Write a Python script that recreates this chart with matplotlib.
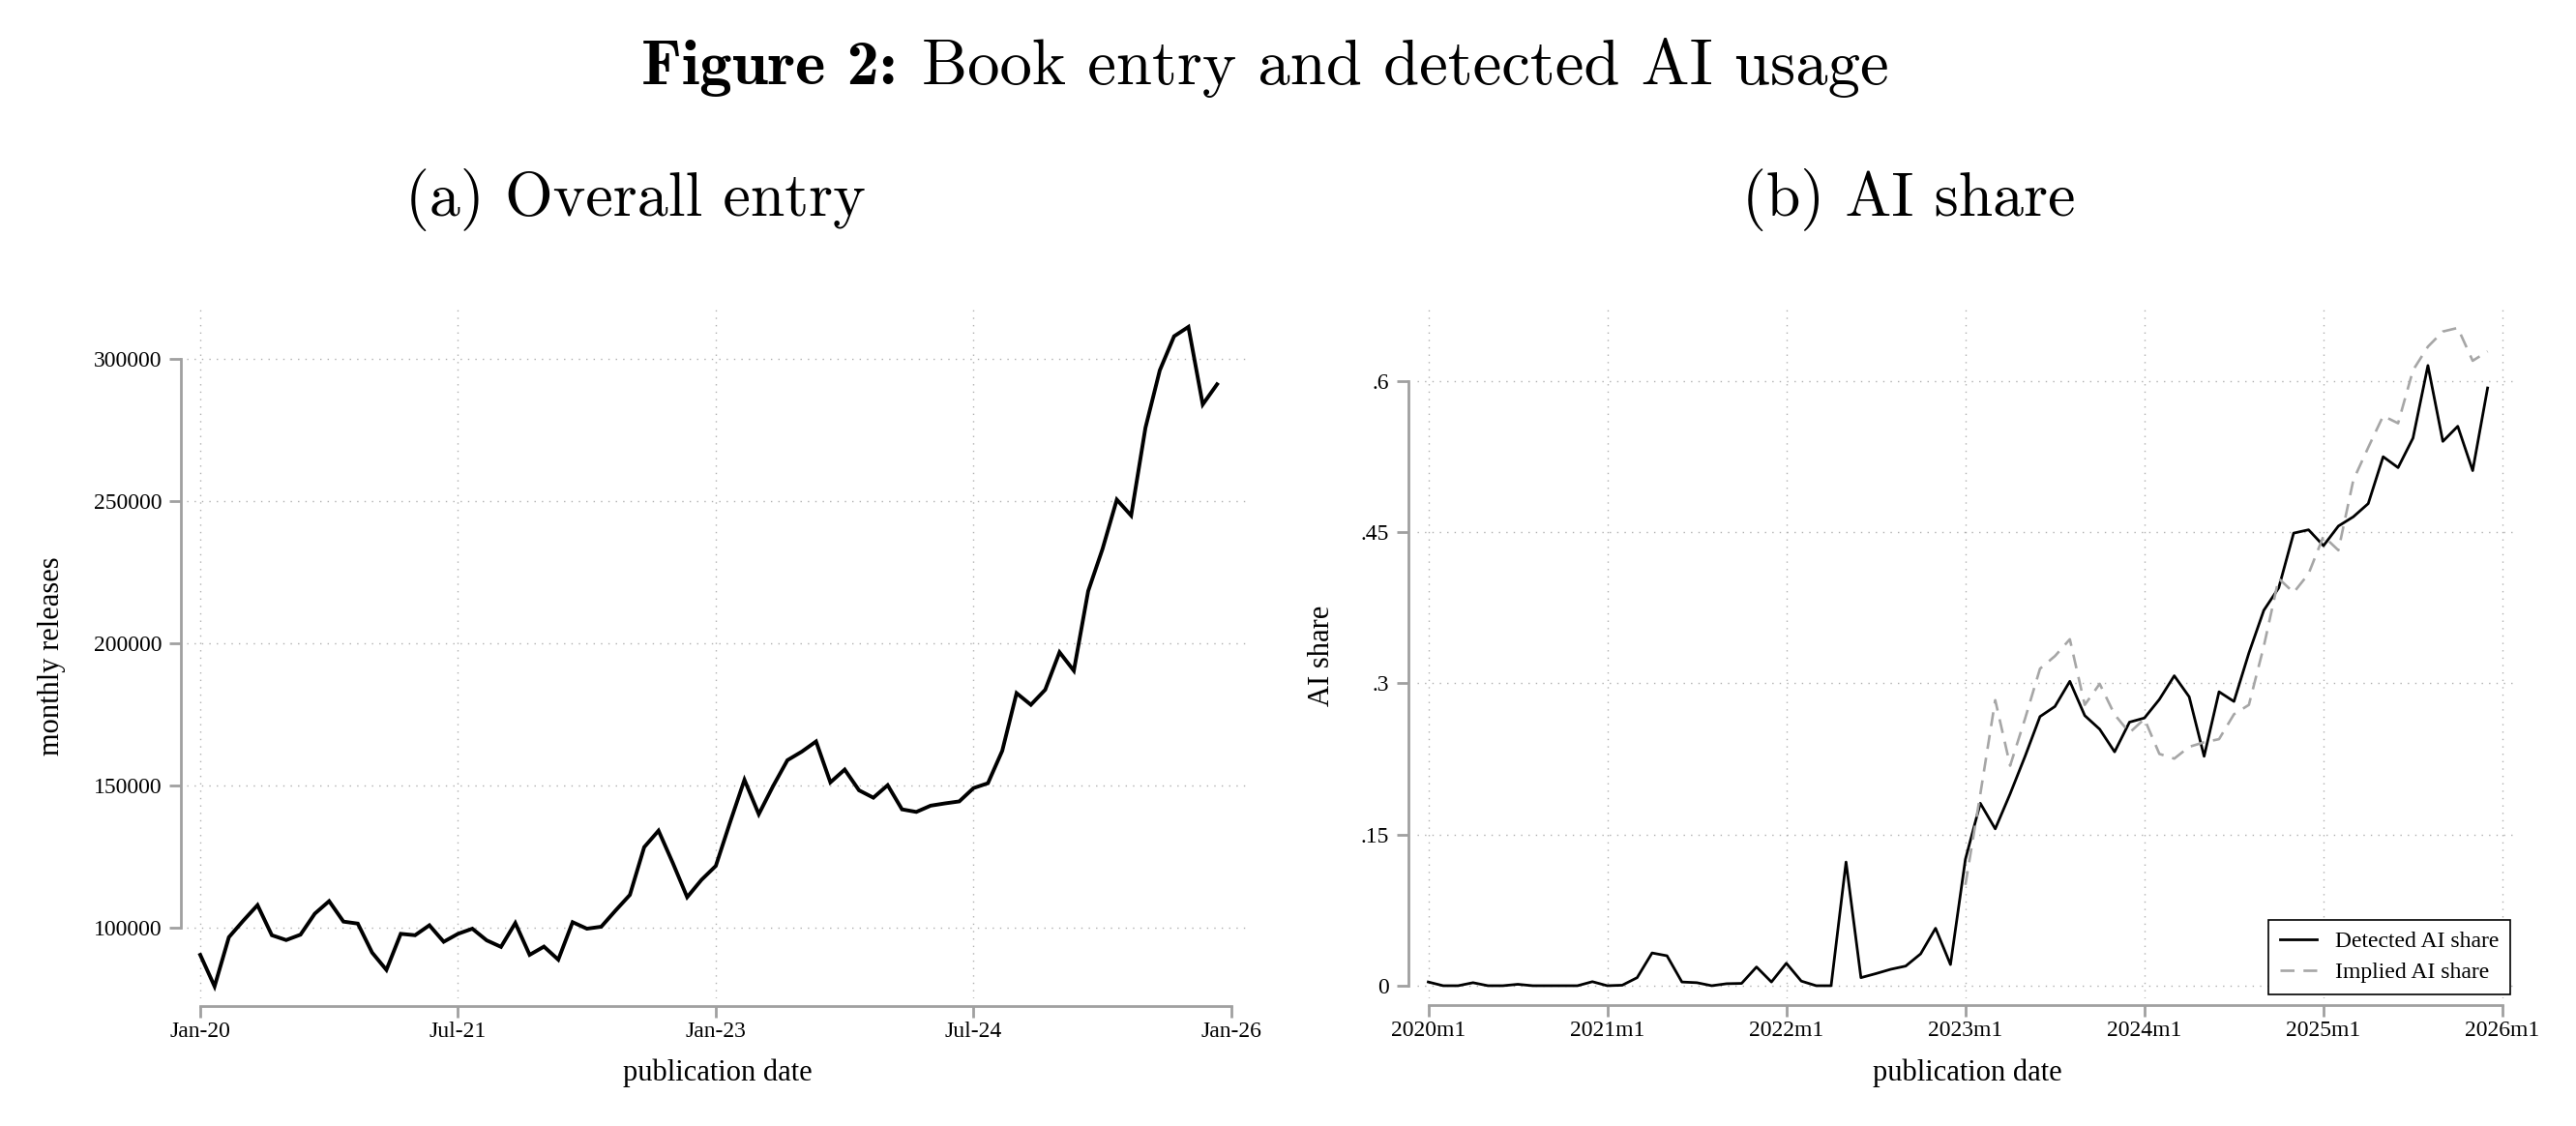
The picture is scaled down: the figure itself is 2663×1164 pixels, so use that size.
import matplotlib
matplotlib.use("Agg")
import matplotlib.pyplot as plt
import numpy as np

# ---------------- data (monthly, Jan-2020 .. Dec-2025) ----------------
months = np.arange(72)  # 0 = Jan 2020

releases = [
    90300, 79200, 96500, 102300, 107800, 97200, 95500, 97400, 104800, 109200, 102000, 101300,
    91100, 85000, 97700, 97200, 100700, 94900, 97700, 99500, 95400, 93100, 101500, 90300,
    93200, 88600, 101800, 99500, 100200, 105900, 111400, 128200, 134000, 122600, 110600, 116700,
    121600, 137000, 151900, 139800, 149700, 158800, 161800, 165400, 151000, 155500, 148200, 145600,
    150000, 141500, 140600, 142800, 143600, 144300, 149000, 150700, 162100, 182400, 178300, 183600,
    196800, 190300, 218300, 233100, 250500, 244900, 275800, 296000, 308000, 311300, 284000, 291100,
]

detected = [
    0.0037, 0.0, 0.0, 0.0030, 0.0, 0.0, 0.0014, 0.0, 0.0, 0.0, 0.0, 0.0040,
    0.0, 0.0005, 0.0080, 0.0325, 0.0297, 0.0037, 0.0030, 0.0, 0.0020, 0.0023, 0.0186, 0.0037,
    0.0223, 0.0046, 0.0, 0.0, 0.1227, 0.0080, 0.0120, 0.0163, 0.0195, 0.0316, 0.0570, 0.0210,
    0.1254, 0.1810, 0.1556, 0.1904, 0.2276, 0.2670, 0.2770, 0.3020, 0.2680, 0.2545, 0.2320, 0.2615,
    0.2656, 0.2840, 0.3075, 0.2866, 0.2276, 0.2916, 0.2820, 0.3300, 0.3724, 0.3947, 0.4490, 0.4523,
    0.4365, 0.4560, 0.4652, 0.4783, 0.5248, 0.5140, 0.5433, 0.6153, 0.5400, 0.5550, 0.5110, 0.5930,
]

implied = [np.nan] * 36 + [
    0.1000, 0.1900, 0.2833, 0.2183, 0.2650, 0.3145, 0.3270, 0.3437, 0.2786, 0.2995, 0.2690, 0.2510,
    0.2647, 0.2300, 0.2253, 0.2370, 0.2415, 0.2446, 0.2693, 0.2786, 0.3367, 0.4040, 0.3900, 0.4087,
    0.4460, 0.4320, 0.5016, 0.5340, 0.5653, 0.5580, 0.6106, 0.6340, 0.6490, 0.6526, 0.6200, 0.6293,
]

left_xticks = [0, 18, 36, 54, 72]
left_xticklabels = ["Jan-20", "Jul-21", "Jan-23", "Jul-24", "Jan-26"]
left_yticks = [100000, 150000, 200000, 250000, 300000]
left_yticklabels = ["100000", "150000", "200000", "250000", "300000"]

right_xticks = [0, 12, 24, 36, 48, 60, 72]
right_xticklabels = ["2020m1", "2021m1", "2022m1", "2023m1", "2024m1", "2025m1", "2026m1"]
right_yticks = [0, 0.15, 0.30, 0.45, 0.60]
right_yticklabels = ["0", ".15", ".3", ".45", ".6"]

# ---------------- figure ----------------
W, H = 2663, 1164
fig = plt.figure(figsize=(W / 100, H / 100), dpi=100)
PX = 0.72  # points per pixel at 100 dpi

SERIF = "Liberation Serif"
AXCOL = "#a0a0a0"
GRIDCOL = "#b0b0b0"


def px_axes(l, r, t, b):
    return fig.add_axes([l / W, 1 - b / H, (r - l) / W, (b - t) / H])


def style(ax, xticks, xlabels, yticks, ylabels, xlim, ylim, left_out, bottom_out):
    ax.set_xlim(*xlim)
    ax.set_ylim(*ylim)
    ax.set_xticks(xticks)
    ax.set_xticklabels(xlabels)
    ax.set_yticks(yticks)
    ax.set_yticklabels(ylabels)
    for s in ("top", "right"):
        ax.spines[s].set_visible(False)
    ax.spines["left"].set_position(("outward", left_out * PX))
    ax.spines["bottom"].set_position(("outward", bottom_out * PX))
    ax.spines["left"].set_bounds(yticks[0], yticks[-1])
    ax.spines["bottom"].set_bounds(xticks[0], xticks[-1])
    for s in ("left", "bottom"):
        ax.spines[s].set_color(AXCOL)
        ax.spines[s].set_linewidth(2.0)
    ax.tick_params(axis="both", colors=AXCOL, width=2.0, length=12 * PX,
                   labelcolor="black", labelsize=17)
    ax.tick_params(axis="x", pad=3)
    ax.tick_params(axis="y", pad=5.5)
    for lab in ax.get_xticklabels() + ax.get_yticklabels():
        lab.set_fontfamily(SERIF)
    ax.set_axisbelow(True)
    ax.grid(True, color=GRIDCOL, linestyle=(0, (1, 4.5)), linewidth=1.0)


# ---- left panel ----
ax1 = px_axes(193, 1290, 320, 1032)
ax1.plot(months, releases, color="black", linewidth=2.8, solid_joinstyle="miter")
style(ax1, left_xticks, left_xticklabels, left_yticks, left_yticklabels,
      (-0.946, 73.15), (75000, 317400), 6, 7.5)
ax1.xaxis.get_gridlines()[-1].set_visible(False)
ax1.set_ylabel("monthly releases", fontsize=22, fontfamily=SERIF, va="center", ha="center")
ax1.yaxis.set_label_coords((54 - 193) / 1097, 0.497)
ax1.set_xlabel("publication date", fontsize=22, fontfamily=SERIF, va="center", ha="center")
ax1.xaxis.set_label_coords(0.5, (1032 - 1109) / 712)

# ---- right panel ----
ax2 = px_axes(1465, 2602, 320, 1032)
ax2.plot(months, detected, color="black", linewidth=2.0, label="Detected AI share")
ax2.plot(months, implied, color="#a6a6a6", linewidth=1.9, linestyle=(0, (5.5, 3.5)),
         label="Implied AI share")
style(ax2, right_xticks, right_xticklabels, right_yticks, right_yticklabels,
      (-0.746, 72.97), (-0.0125, 0.6708), 9, 7)
ax2.set_ylabel("AI share", fontsize=22, fontfamily=SERIF, va="center", ha="center")
ax2.yaxis.set_label_coords((1366 - 1465) / 1137, 0.497)
ax2.set_xlabel("publication date", fontsize=22, fontfamily=SERIF, va="center", ha="center")
ax2.xaxis.set_label_coords(0.5, (1032 - 1109) / 712)

leg = ax2.legend(loc="lower right", bbox_to_anchor=((2595 - 1465) / 1137, (1032 - 1028) / 712),
                 borderaxespad=0, frameon=True, fancybox=False, edgecolor="black",
                 prop={"family": SERIF, "size": 17}, handlelength=1.6, handletextpad=0.8,
                 labelspacing=0.45, borderpad=0.5)
leg.get_frame().set_linewidth(1.2)
leg.get_frame().set_facecolor("white")
leg.get_frame().set_alpha(1.0)

# ---------------- titles ----------------
fig.text(657 / W, 1 - 223 / H, "(a) Overall entry", fontfamily="cmr10", fontsize=46,
         ha="center", va="baseline")
fig.text(1973.5 / W, 1 - 223 / H, "(b) AI share", fontfamily="cmr10", fontsize=46,
         ha="center", va="baseline")

TS = 48
t1 = fig.text(0, 1 - 87 / H, "Figure 2:", fontfamily="cmb10", fontsize=TS,
              ha="left", va="baseline")
t2 = fig.text(0, 1 - 87 / H, "Book entry and detected AI usage", fontfamily="cmr10",
              fontsize=TS, ha="left", va="baseline")
fig.canvas.draw()
r = fig.canvas.get_renderer()
w1 = t1.get_window_extent(r).width
w2 = t2.get_window_extent(r).width
gap = 0.38 * TS / PX  # inter-word space in pixels
start = 1307.5 - (w1 + gap + w2) / 2
t1.set_x(start / W)
t2.set_x((start + w1 + gap) / W)

fig.savefig("out.png", dpi=100)
